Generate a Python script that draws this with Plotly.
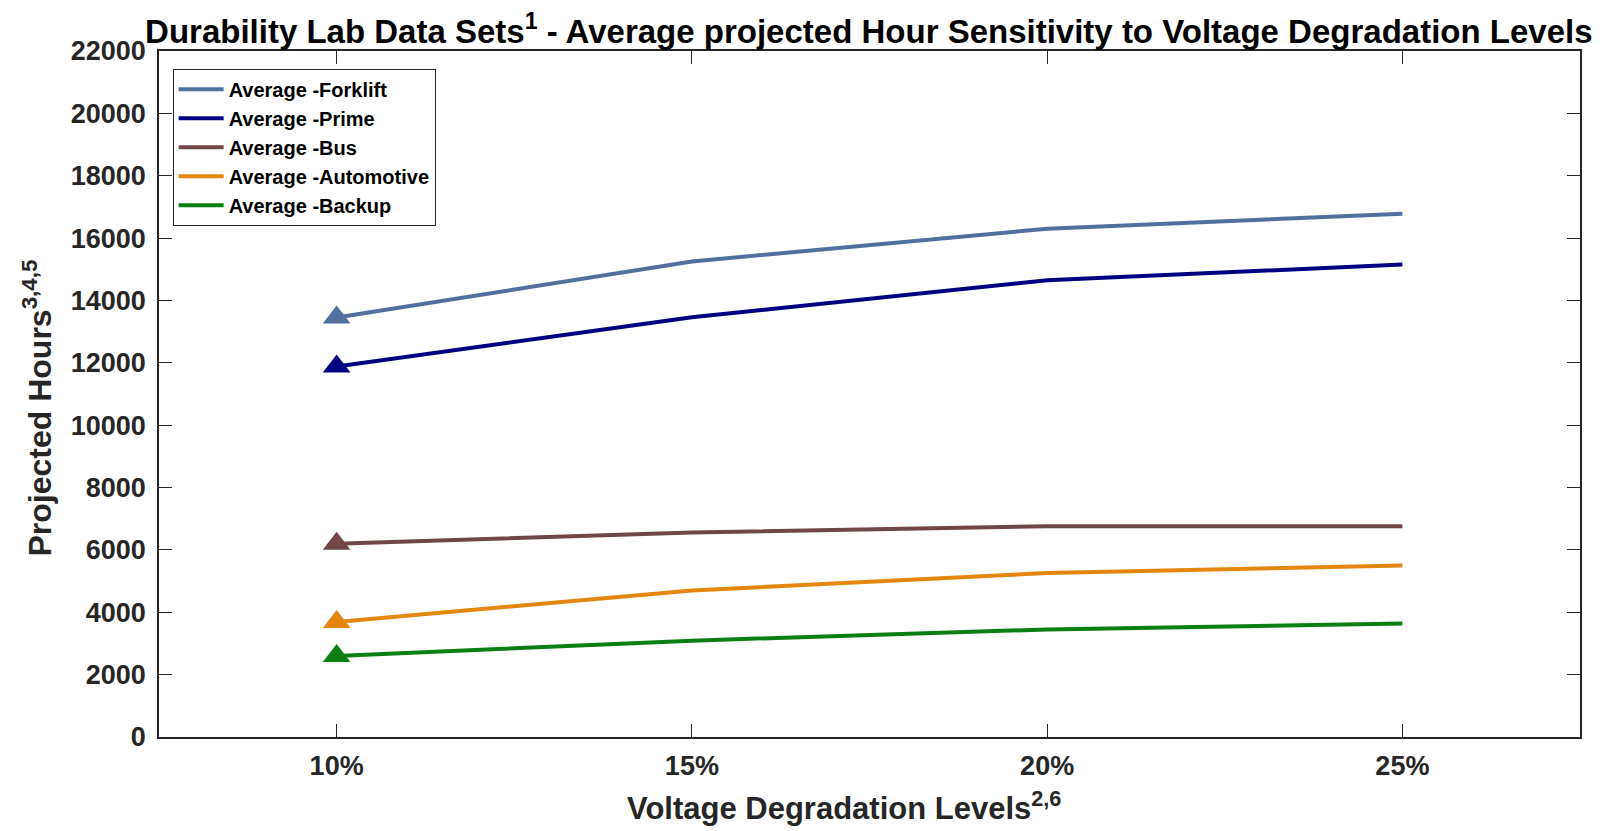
import plotly.graph_objects as go

# datos
levels = ['10%', '15%', '20%', '25%']
forklift = [13450, 15250, 16300, 16780]
prime = [11880, 13460, 14650, 15150]
bus = [6200, 6560, 6760, 6760]
automotive = [3690, 4700, 5260, 5500]
backup = [2600, 3090, 3450, 3640]

series = [
    ('Average -Forklift', forklift, '#52709E'),
    ('Average -Prime', prime, '#000080'),
    ('Average -Bus', bus, '#704646'),
    ('Average -Automotive', automotive, '#E5870F'),
    ('Average -Backup', backup, '#0B7F12'),
]

fig = go.Figure()
for name, vals, col in series:
    fig.add_scatter(x=levels, y=vals, mode='lines', name='<b>' + name + '</b>',
                    line=dict(color=col, width=4))
for name, vals, col in series:
    # triángulo solo en el primer punto
    fig.add_scatter(x=levels[:1], y=vals[:1], mode='markers', showlegend=False,
                    marker=dict(symbol='triangle-up', size=24, color=col))

FONT = 'Liberation Sans, Arial'
axis_font = dict(family=FONT, size=27, color='#262626')
# márgenes compensan los 8px del body de la página
fig.update_layout(
    width=1612, height=831,
    paper_bgcolor='white', plot_bgcolor='white',
    margin=dict(l=151, r=40, t=43, b=102),
    font=dict(family=FONT, color='#262626'),
    title=dict(text='<b>Durability Lab Data Sets<sup>1</sup> - Average projected Hour Sensitivity to Voltage Degradation Levels</b>',
               x=0.534, xanchor='center', y=0.972, yanchor='middle', yref='container',
               font=dict(size=33, color='black')),
    xaxis=dict(range=[-0.5, 3.5], showgrid=False, zeroline=False,
               showline=True, linecolor='#262626', linewidth=1.5, mirror='allticks',
               ticks='inside', ticklen=13, tickcolor='#262626',
               tickfont=axis_font, tickprefix='<b>', ticksuffix='</b>',
               ticklabelstandoff=4),
    yaxis=dict(range=[0, 22000], dtick=2000, tickformat='d', showgrid=False, zeroline=False,
               showline=True, linecolor='#262626', linewidth=1.5, mirror='allticks',
               ticks='inside', ticklen=13, tickcolor='#262626',
               tickfont=axis_font, tickprefix='<b>', ticksuffix='</b>',
               ticklabelstandoff=6),
    legend=dict(x=0.0096, y=0.974, xanchor='left', yanchor='top',
                bgcolor='white', bordercolor='#262626', borderwidth=1,
                font=dict(size=20, color='black'), itemwidth=45),
)

# títulos de ejes como anotaciones para colocarlos como en el original
fig.add_annotation(text='<b>Voltage Degradation Levels<sup>2,6</sup></b>',
                   xref='paper', yref='paper', x=0.482, y=-0.1,
                   xanchor='center', yanchor='middle', showarrow=False,
                   font=dict(size=31, color='#262626'))
fig.add_annotation(text='<b>Projected Hours<sup>3,4,5</sup></b>',
                   xref='paper', yref='paper', x=-0.086, y=0.48, textangle=-90,
                   xanchor='center', yanchor='middle', showarrow=False,
                   font=dict(size=32, color='#262626'))

fig.write_html('out.html')
